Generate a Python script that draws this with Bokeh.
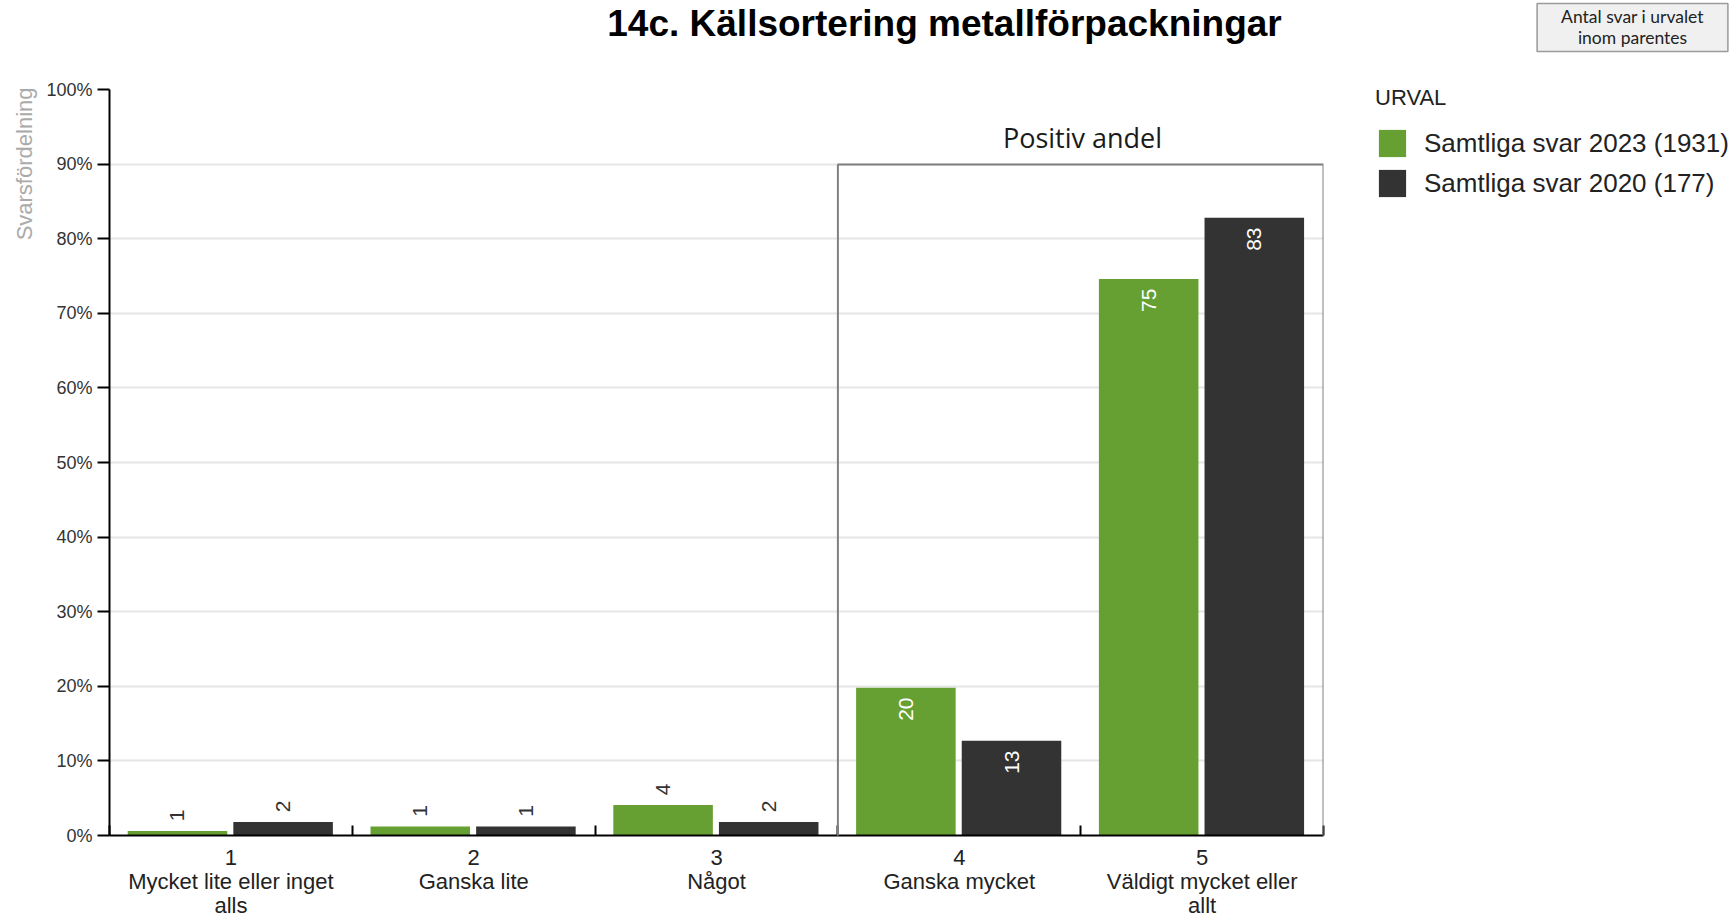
import math
from bokeh.plotting import figure
from bokeh.models import (ColumnDataSource, Range1d, FixedTicker, PrintfTickFormatter,
                          Legend, LegendItem, Label, BoxAnnotation, LinearAxis)
from bokeh.core.properties import value
from bokeh.embed import file_html
from bokeh.resources import INLINE

# ---------------- data ----------------
categories = ["1\nMycket lite eller inget\nalls", "2\nGanska lite", "3\nNågot",
              "4\nGanska mycket", "5\nVäldigt mycket eller\nallt"]
series_names = ["Samtliga svar 2023 (1931)", "Samtliga svar 2020 (177)"]
values_2023 = [0.6, 1.2, 4.1, 19.8, 74.6]
values_2020 = [1.8, 1.2, 1.8, 12.7, 82.8]
y_ticks = [0, 10, 20, 30, 40, 50, 60, 70, 80, 90, 100]
title_text = "14c. Källsortering metallförpackningar"
y_label = "Svarsfördelning"
legend_title = "URVAL"
box_text = "Antal svar i urvalet\ninom parentes"
positive_text = "Positiv andel"
positive_from, positive_to = 3, 5

GREEN = "#66a032"
DARK = "#333333"
FONT = "Liberation Sans"

# ---------------- layout (pixels) ----------------
FL, FT, FW, FH = 109, 89, 1214, 746          # frame left, top, width, height
n = len(categories)


def px_x(px):   # page x pixel -> x data coordinate (for annotations)
    return (px - FL) * n / FW


def px_y(py):   # page y pixel -> y data coordinate (for annotations)
    return (FT + FH - py) * 100.0 / FH


p = figure(frame_width=FW, frame_height=FH, output_backend="svg", toolbar_location=None,
           x_range=Range1d(0, n), y_range=Range1d(0, 100),
           min_border_left=FL, min_border_right=1731 - FL - FW, min_border_top=FT,
           min_border_bottom=919 - FT - FH)
p.outline_line_color = None
p.background_fill_color = "white"
if p.title is not None:
    p.title.visible = False

x_centers = [i + 0.5 for i in range(n)]
x_green = [i + 0.28 for i in range(n)]
x_dark = [i + 0.715 for i in range(n)]
bw = 0.41

src_g = ColumnDataSource(dict(x=x_green, top=values_2023))
src_d = ColumnDataSource(dict(x=x_dark, top=values_2020))
rg = p.vbar(x="x", top="top", width=bw, source=src_g, fill_color=GREEN, line_color=None)
rd = p.vbar(x="x", top="top", width=bw, source=src_d, fill_color=DARK, line_color=None)

# data labels
lx, ly, lt, la, lc = [], [], [], [], []
off = 1.3
for xs, vals in ((x_green, values_2023), (x_dark, values_2020)):
    for x, v in zip(xs, vals):
        lx.append(x)
        lt.append(str(int(round(v))))
        if v > 10:
            ly.append(v - off); la.append("right"); lc.append("white")
        else:
            ly.append(v + off); la.append("left"); lc.append("#333333")
lsrc = ColumnDataSource(dict(x=lx, y=ly, text=lt, align=la, color=lc))
p.text(x="x", y="y", text="text", source=lsrc, angle=math.pi / 2, text_align="align",
       text_baseline="middle", text_color="color", text_font=value(FONT),
       text_font_size="21px")

# axes
xa = p.xaxis[0]
xa.ticker = FixedTicker(ticks=x_centers, minor_ticks=list(range(n + 1)))
xa.major_label_overrides = {c: lab for c, lab in zip(x_centers, categories)}
xa.major_tick_line_color = None
xa.major_tick_in = 0
xa.major_tick_out = 0
xa.minor_tick_in = 10
xa.minor_tick_out = 0
xa.minor_tick_line_color = "black"
xa.minor_tick_line_width = 2
xa.axis_line_color = "black"
xa.axis_line_width = 2
xa.major_label_standoff = 9
xa.major_label_text_font = FONT
xa.major_label_text_font_size = "22px"
xa.major_label_text_color = "#222222"
xa.major_label_text_line_height = 0.97

ya = p.yaxis[0]
ya.ticker = FixedTicker(ticks=y_ticks)
ya.formatter = PrintfTickFormatter(format="%d%%")
ya.major_tick_out = 12
ya.major_tick_in = 0
ya.major_tick_line_width = 2
ya.major_tick_line_color = "black"
ya.minor_tick_line_color = None
ya.axis_line_color = "black"
ya.axis_line_width = 2
ya.major_label_standoff = 5
ya.major_label_text_font = FONT
ya.major_label_text_font_size = "18px"
ya.major_label_text_color = "#333333"

p.xgrid.grid_line_color = None
p.ygrid.ticker = FixedTicker(ticks=y_ticks)
p.ygrid.grid_line_color = "#e6e6e6"
p.ygrid.grid_line_width = 2

# y axis title (top aligned, in the left panel so it is not clipped by the frame)
p.add_layout(Label(x=px_x(24), y=px_y(87), text=y_label, angle=math.pi / 2,
                   text_align="right", text_baseline="middle", text_font=FONT,
                   text_font_size="22px", text_color="#aaaaaa"), "left")

# "Positiv andel" box: inside the plot area ...
p.add_layout(BoxAnnotation(left=positive_from, right=positive_to, top=px_y(164), bottom=-30,
                           fill_alpha=0, line_color="#808080", line_alpha=1, line_width=2))
# ... and its sides continuing below the axis (drawn as ticks of a fixed-location axis)
box_axis = LinearAxis(fixed_location=px_y(921), ticker=FixedTicker(ticks=[positive_from, positive_to]),
                      major_tick_in=86, major_tick_out=0, major_tick_line_color="#808080",
                      major_tick_line_width=2, minor_tick_line_color=None, axis_line_color=None,
                      major_label_standoff=0, major_label_text_font_size="0px",
                      major_label_overrides={positive_from: "", positive_to: ""})
p.add_layout(box_axis, "below")

p.add_layout(Label(x=px_x(1082), y=px_y(137), text=positive_text,
                   text_align="center", text_baseline="middle", text_font="Open Sans",
                   text_font_size="27px", text_color="#1a1a1a"))

# title
p.add_layout(Label(x=px_x(944), y=px_y(23), text=title_text,
                   text_align="center", text_baseline="middle", text_font=FONT,
                   text_font_size="37px", text_font_style="bold", text_color="black"), "above")

# info box
info = Label(x=px_x(1632), y=px_y(27), text=box_text,
             text_align="center", text_baseline="middle", text_font="Lato",
             text_font_size="17.5px", text_color="#222222", text_line_height=1.0,
             background_fill_color="#f0f0f0", background_fill_alpha=1,
             border_line_color="#9a9a9a", border_line_alpha=1, border_line_width=1.5)
try:
    info.padding = dict(left=24, right=24, top=2, bottom=4)
except Exception:
    info.padding = 3
p.add_layout(info, "above")

# legend
legend = Legend(items=[LegendItem(label=series_names[0], renderers=[rg]),
                       LegendItem(label=series_names[1], renderers=[rd])],
                location=(52, 635), title=legend_title)
legend.title_text_font = FONT
legend.title_text_font_size = "22px"
legend.title_text_font_style = "normal"
legend.title_text_color = "#222222"
legend.title_standoff = 15
legend.label_text_font = FONT
legend.label_text_font_size = "26px"
legend.label_text_color = "#222222"
legend.glyph_width = 34
legend.glyph_height = 34
legend.label_height = 34
legend.label_standoff = 15
legend.spacing = 6
legend.padding = 0
legend.margin = 0
legend.border_line_color = None
legend.background_fill_alpha = 0
p.add_layout(legend, "right")

open("out.html", "w").write(file_html(p, INLINE))
